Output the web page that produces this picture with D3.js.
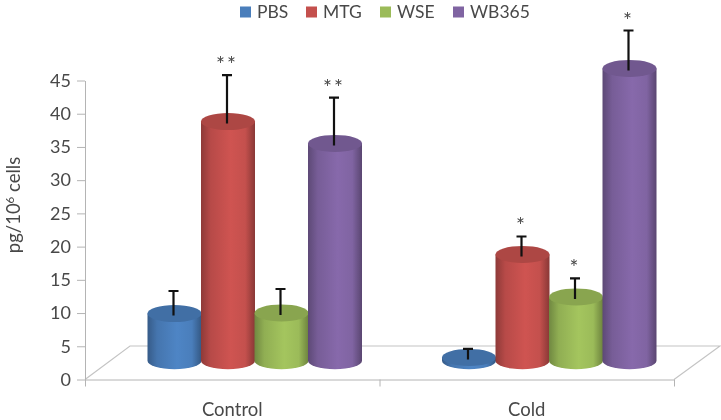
<!DOCTYPE html>
<html>
<head>
<meta charset="utf-8">
<script src="https://d3js.org/d3.v7.min.js"></script>
<style>
  html, body { margin: 0; padding: 0; background: #fff; }
  text { font-family: Lato, "Open Sans", sans-serif; fill: #484848; }
  .domain, .tick line { stroke: #b4b4b4; }
</style>
</head>
<body>
<div id="chart"></div>
<script>
var categories = ["Control", "Cold"];
var seriesNames = ["PBS", "MTG", "WSE", "WB365"];
var yTicks = [0, 5, 10, 15, 20, 25, 30, 35, 40, 45];

// one value per category
var pbs = [7.1, 0.5];
var mtg = [36, 16];
var wse = [7.2, 9.6];
var wb365 = [32.7, 44];

// top of the error bars
var pbsErr = [10.5, 1.8];
var mtgErr = [43, 18.7];
var wseErr = [10.8, 12.4];
var wb365Err = [39.6, 49.7];

// significance marks
var pbsStars = ["", ""];
var mtgStars = ["**", "*"];
var wseStars = ["", "*"];
var wb365Stars = ["**", "*"];

var seriesColors = ["#4a7ebb", "#c4504d", "#9bbb59", "#8064a2"];

var chartW = 721, chartH = 420;
var plotLeft = 85, plotRight = 674, plotBottom = 379.5, plotTop = 80.5;

// the floor of the 3d box is pushed back by this much
var depthX = 45, depthY = 33.5;

var svg = d3.select("#chart").append("svg")
  .attr("width", chartW)
  .attr("height", chartH)
  .style("display", "block")
  .style("filter", "blur(0.5px)");

var defs = svg.append("defs");
seriesColors.forEach(function(c, i) {
  var g = defs.append("linearGradient").attr("id", "cyl" + i);
  g.append("stop").attr("offset", "0%").attr("stop-color", d3.color(c).darker(0.9));
  g.append("stop").attr("offset", "18%").attr("stop-color", d3.color(c).darker(0.2));
  g.append("stop").attr("offset", "55%").attr("stop-color", d3.color(c).brighter(0.15));
  g.append("stop").attr("offset", "82%").attr("stop-color", c);
  g.append("stop").attr("offset", "100%").attr("stop-color", d3.color(c).darker(1));
});

var x = d3.scalePoint().domain(d3.range(categories.length + 1)).range([plotLeft, plotRight]);
var x0 = d3.scaleBand().domain(categories).range([plotLeft, plotRight]);
var x1 = d3.scaleBand().domain(seriesNames).range([0, 214]);
var y = d3.scaleLinear().domain([0, 45]).range([plotBottom, plotTop]);

// floor
svg.append("path")
  .attr("d", "M" + plotLeft + "," + plotBottom + "L" + (plotLeft + depthX) + "," + (plotBottom - depthY) +
    "L" + (plotRight + depthX + 1) + "," + (plotBottom - depthY) + "L" + plotRight + "," + plotBottom)
  .attr("fill", "none")
  .attr("stroke", "#c4c4c4")
  .attr("stroke-width", 1.2);

// axes
var yAxis = svg.append("g")
  .attr("transform", "translate(" + plotLeft + ",0)")
  .call(d3.axisLeft(y).tickValues(yTicks).tickSize(8).tickPadding(6).tickSizeOuter(0));
yAxis.selectAll("text").style("font-size", "18px");

var xAxis = svg.append("g")
  .attr("transform", "translate(0," + plotBottom + ")")
  .call(d3.axisBottom(x).tickSize(7).tickSizeOuter(0).tickFormat(""));

svg.selectAll(".catLabel")
  .data(categories)
  .enter().append("text")
  .attr("class", "catLabel")
  .attr("x", function(d) { return x0(d) + x0.bandwidth() / 2; })
  .attr("y", 416)
  .attr("text-anchor", "middle")
  .style("font-size", "18.5px")
  .text(function(d) { return d; });

// y title
var title = svg.append("text")
  .attr("transform", "translate(20,205) rotate(-90)")
  .attr("text-anchor", "middle")
  .style("font-size", "18.5px");
title.append("tspan").text("pg/10");
title.append("tspan").attr("dy", -6).style("font-size", "11.5px").text("6");
title.append("tspan").attr("dy", 6).text(" cells");

// cylinders
var values = [pbs, mtg, wse, wb365];
var errs = [pbsErr, mtgErr, wseErr, wb365Err];
var stars = [pbsStars, mtgStars, wseStars, wb365Stars];
var rx = 27, ry = 8.5;

var bars = [];
seriesNames.forEach(function(name, s) {
  categories.forEach(function(cat, c) {
    bars.push({ s: s, name: name, cat: cat, value: values[s][c], err: errs[s][c], star: stars[s][c] });
  });
});

function barX(d) {
  return x0(d.cat) + x0.bandwidth() / 2 + depthX / 2 - 107 + x1(d.name) + x1.bandwidth() / 2;
}
function floorY(v) {
  return y(v) - depthY / 2 - 2;
}

var bar = svg.selectAll(".bar")
  .data(bars)
  .enter().append("g")
  .attr("class", "bar");

bar.append("path")
  .attr("fill", function(d) { return "url(#cyl" + d.s + ")"; })
  .attr("d", function(d) {
    var cx = barX(d), t = floorY(d.value), b = floorY(0);
    return "M" + (cx - rx) + "," + t + "L" + (cx - rx) + "," + b +
      "A" + rx + "," + ry + " 0 0 0 " + (cx + rx) + "," + b +
      "L" + (cx + rx) + "," + t + "Z";
  });

bar.append("ellipse")
  .attr("cx", barX)
  .attr("cy", function(d) { return floorY(d.value); })
  .attr("rx", rx)
  .attr("ry", ry)
  .attr("fill", function(d) { return d3.color(seriesColors[d.s]).darker(0.35); });

// error bars
bar.append("path")
  .attr("fill", "none")
  .attr("stroke", "#111")
  .attr("stroke-width", 2.2)
  .attr("d", function(d) {
    var cx = barX(d) - 1, t = floorY(d.err), b = floorY(d.value) + 2;
    return "M" + cx + "," + b + "V" + t + "M" + (cx - 5) + "," + t + "H" + (cx + 5);
  });

bar.append("text")
  .attr("x", function(d) { return barX(d) - 1; })
  .attr("y", function(d) { return floorY(d.err) - 3; })
  .attr("text-anchor", "middle")
  .style("font-size", "21px")
  .style("letter-spacing", "2px")
  .text(function(d) { return d.star; });

// legend
var legendX = [240, 306, 380, 453];
var legend = svg.selectAll(".legend")
  .data(seriesNames)
  .enter().append("g")
  .attr("class", "legend")
  .attr("transform", function(d, i) { return "translate(" + legendX[i] + ",12)"; });

legend.append("rect")
  .attr("y", -5.5)
  .attr("width", 11)
  .attr("height", 11)
  .attr("fill", function(d, i) { return seriesColors[i]; });

legend.append("text")
  .attr("x", 17)
  .attr("dy", "0.35em")
  .style("font-size", "17.5px")
  .text(function(d) { return d; });
</script>
</body>
</html>
